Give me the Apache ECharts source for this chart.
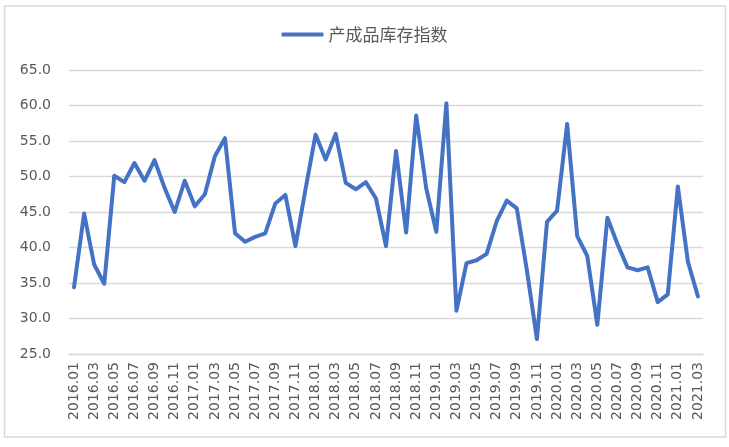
<!DOCTYPE html>
<html>
<head>
<meta charset="utf-8">
<script src="https://cdn.jsdelivr.net/npm/echarts@6/dist/echarts.min.js"></script>
<style>
html,body{margin:0;padding:0;background:#fff;}
#chart{width:729px;height:447px;}
</style>
</head>
<body>
<div id="chart"></div>
<script>
var seriesName = '产成品库存指数';
var categories = [
  '2016.01','2016.02','2016.03','2016.04','2016.05','2016.06','2016.07','2016.08','2016.09','2016.10','2016.11','2016.12',
  '2017.01','2017.02','2017.03','2017.04','2017.05','2017.06','2017.07','2017.08','2017.09','2017.10','2017.11','2017.12',
  '2018.01','2018.02','2018.03','2018.04','2018.05','2018.06','2018.07','2018.08','2018.09','2018.10','2018.11','2018.12',
  '2019.01','2019.02','2019.03','2019.04','2019.05','2019.06','2019.07','2019.08','2019.09','2019.10','2019.11','2019.12',
  '2020.01','2020.02','2020.03','2020.04','2020.05','2020.06','2020.07','2020.08','2020.09','2020.10','2020.11','2020.12',
  '2021.01','2021.02','2021.03'
];
var values = [
  34.4, 44.8, 37.6, 34.9, 50.1, 49.2, 51.9, 49.4, 52.3, 48.4, 45.0, 49.4,
  45.8, 47.5, 52.9, 55.4, 42.0, 40.8, 41.5, 42.0, 46.2, 47.4, 40.2, 48.2,
  55.9, 52.4, 56.0, 49.1, 48.2, 49.2, 46.9, 40.2, 53.6, 42.1, 58.6, 48.3,
  42.2, 60.3, 31.1, 37.8, 38.2, 39.1, 43.7, 46.6, 45.5, 36.8, 27.1, 43.6,
  45.2, 57.4, 41.6, 38.8, 29.1, 44.2, 40.5, 37.2, 36.8, 37.2, 32.3, 33.4,
  48.6, 38.0, 33.1
];
var yMin = 25, yMax = 65, yStep = 5;

var chart = echarts.init(document.getElementById('chart'), null, {renderer: 'canvas'});
chart.setOption({
  animation: false,
  backgroundColor: '#ffffff',
  graphic: [{
    type: 'rect',
    shape: {x: 4.5, y: 6, width: 721, height: 431},
    style: {fill: 'none', stroke: '#d9d9d9', lineWidth: 1.5},
    silent: true,
    z: -1
  }],
  legend: {
    top: 21,
    left: 'center',
    icon: 'roundRect',
    itemWidth: 42,
    itemHeight: 4,
    itemGap: 10,
    textStyle: {fontFamily: 'Noto Sans CJK SC', fontSize: 17, color: '#595959'},
    data: [seriesName]
  },
  grid: {left: 69, right: 26, top: 70, bottom: 93, containLabel: false},
  xAxis: {
    type: 'category',
    data: categories,
    boundaryGap: true,
    axisLine: {show: true, lineStyle: {color: '#d9d9d9', width: 1.3}},
    axisTick: {show: false},
    axisLabel: {
      interval: 1,
      rotate: 90,
      margin: 8,
      fontFamily: 'DejaVu Sans',
      fontSize: 14,
      color: '#595959'
    }
  },
  yAxis: {
    type: 'value',
    min: yMin,
    max: yMax,
    interval: yStep,
    axisLine: {show: false},
    axisTick: {show: false},
    splitLine: {lineStyle: {color: '#d9d9d9', width: 1.3}},
    axisLabel: {
      margin: 18,
      fontFamily: 'DejaVu Sans',
      fontSize: 14,
      color: '#595959',
      formatter: function (v) { return v.toFixed(1); }
    }
  },
  series: [{
    name: seriesName,
    type: 'line',
    data: values,
    showSymbol: false,
    symbol: 'none',
    smooth: false,
    itemStyle: {color: '#4472C4'},
    lineStyle: {color: '#4472C4', width: 4, cap: 'round', join: 'round'}
  }]
});
</script>
</body>
</html>
